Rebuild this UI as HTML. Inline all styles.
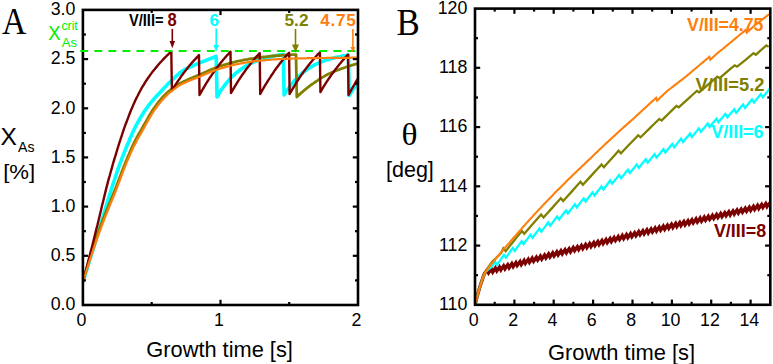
<!DOCTYPE html>
<html><head><meta charset="utf-8"><title>fig</title>
<style>
html,body{margin:0;padding:0;background:#fff;}
body{width:773px;height:364px;overflow:hidden;}
svg{display:block;}
text{font-family:"Liberation Sans",sans-serif;fill:#000;}
.ser{font-family:"Liberation Serif",serif;}
.b{font-weight:bold;}
</style></head><body>
<svg width="773" height="364" viewBox="0 0 773 364">
<rect width="773" height="364" fill="#fff"/>

<defs><clipPath id="ca"><rect x="82.9" y="9.9" width="275.1" height="295.1"/></clipPath>
<clipPath id="cb"><rect x="475.0" y="8.6" width="296.3" height="296.2"/></clipPath></defs>
<g clip-path="url(#ca)" fill="none" stroke-linejoin="round">
<path d="M82.9,281.9 L84.6,276.5 L86.3,271.2 L88.0,265.8 L89.6,260.4 L91.3,255.0 L93.0,249.6 L94.7,244.2 L96.4,238.7 L98.1,233.3 L99.8,227.8 L101.5,222.2 L103.1,216.5 L104.8,210.8 L106.5,205.1 L108.2,199.5 L109.9,193.9 L111.6,188.5 L113.3,183.3 L115.0,178.2 L116.6,173.3 L118.3,168.4 L120.0,163.7 L121.7,159.1 L123.4,154.7 L125.1,150.3 L126.8,146.2 L128.5,142.2 L130.1,138.3 L131.8,134.5 L133.5,130.8 L135.2,127.3 L136.9,124.0 L138.6,120.9 L140.3,118.0 L142.0,115.3 L143.6,112.6 L145.3,110.1 L147.0,107.7 L148.7,105.4 L150.4,103.2 L152.1,101.2 L153.8,99.2 L155.4,97.3 L157.1,95.5 L158.8,93.7 L160.5,91.9 L162.2,90.1 L163.9,88.3 L165.6,86.6 L167.3,84.8 L168.9,83.1 L170.6,81.5 L172.3,79.9 L174.0,78.2 L175.7,76.6 L177.4,75.0 L179.1,73.5 L180.8,72.2 L182.4,71.0 L184.1,70.0 L185.8,69.0 L187.5,68.2 L189.2,67.3 L190.9,66.6 L192.6,65.8 L194.3,65.1 L195.9,64.4 L197.6,63.6 L199.3,62.9 L201.0,62.3 L202.7,61.6 L204.4,61.0 L206.1,60.3 L207.8,59.6 L209.4,59.0 L211.1,58.3 L212.8,57.7 L214.5,57.0 L216.2,56.3 L217.0,97.0 L219.3,93.1 L221.6,89.5 L223.9,86.3 L226.2,83.3 L228.4,80.6 L230.7,78.1 L233.0,75.8 L235.3,73.7 L237.6,71.8 L239.9,70.0 L242.2,68.4 L244.4,66.9 L246.7,65.5 L249.0,64.3 L251.3,63.2 L253.6,62.1 L255.9,61.2 L258.2,60.3 L260.4,59.5 L262.7,58.7 L265.0,58.1 L267.3,57.5 L269.6,56.9 L271.9,56.4 L274.2,55.9 L276.5,55.5 L278.7,55.1 L281.0,54.7 L283.3,54.4 L284.1,95.0 L286.4,91.4 L288.6,88.2 L290.8,85.2 L293.0,82.5 L295.2,79.9 L297.4,77.6 L299.6,75.5 L301.9,73.5 L304.1,71.7 L306.3,70.1 L308.5,68.6 L310.7,67.2 L312.9,65.9 L315.1,64.7 L317.4,63.6 L319.6,62.6 L321.8,61.7 L324.0,60.9 L326.2,60.1 L328.4,59.4 L330.7,58.8 L332.9,58.2 L335.1,57.6 L337.3,57.1 L339.5,56.7 L341.7,56.2 L343.9,55.8 L346.2,55.5 L348.4,55.1 L349.2,95.5 L351.4,91.9 L353.6,88.6 L355.8,85.6 L358.0,82.8 L360.2,80.3" stroke="#00ffff" stroke-width="3.6"/>
<path d="M82.9,281.9 L84.7,275.4 L86.5,268.9 L88.3,262.6 L90.1,256.4 L91.9,251.0 L93.6,245.7 L95.4,240.5 L97.2,235.4 L99.0,230.4 L100.8,225.5 L102.6,220.7 L104.4,216.1 L106.2,211.6 L108.0,207.2 L109.8,202.8 L111.5,198.4 L113.3,194.0 L115.1,189.5 L116.9,184.9 L118.7,180.2 L120.5,175.4 L122.3,170.6 L124.1,166.0 L125.9,161.5 L127.7,157.2 L129.5,153.0 L131.2,149.0 L133.0,145.1 L134.8,141.4 L136.6,138.0 L138.4,134.8 L140.2,131.7 L142.0,128.5 L143.8,125.3 L145.6,122.1 L147.4,119.0 L149.1,115.9 L150.9,113.0 L152.7,110.1 L154.5,107.5 L156.3,105.0 L158.1,102.6 L159.9,100.4 L161.7,98.3 L163.5,96.3 L165.3,94.5 L167.1,92.8 L168.8,91.3 L170.6,89.8 L172.4,88.5 L174.2,87.2 L176.0,86.0 L177.8,84.7 L179.6,83.6 L181.4,82.7 L183.2,81.8 L185.0,81.0 L186.7,80.2 L188.5,79.4 L190.3,78.6 L192.1,77.9 L193.9,77.1 L195.7,76.4 L197.5,75.6 L199.3,74.9 L201.1,74.1 L202.9,73.3 L204.7,72.4 L206.4,71.7 L208.2,70.9 L210.0,70.1 L211.8,69.3 L213.6,68.6 L215.4,67.8 L217.2,67.2 L219.0,66.5 L220.8,65.9 L222.6,65.4 L224.3,64.8 L226.1,64.3 L227.9,63.8 L229.7,63.3 L231.5,62.8 L233.3,62.3 L235.1,61.9 L236.9,61.4 L238.7,61.0 L240.5,60.6 L242.3,60.3 L244.0,59.9 L245.8,59.6 L247.6,59.3 L249.4,58.9 L251.2,58.6 L253.0,58.4 L254.8,58.1 L256.6,57.9 L258.4,57.6 L260.2,57.4 L261.9,57.2 L263.7,57.0 L265.5,56.8 L267.3,56.6 L269.1,56.4 L270.9,56.2 L272.7,56.0 L274.5,55.9 L276.3,55.7 L278.1,55.6 L279.9,55.5 L281.6,55.4 L283.4,55.2 L285.2,55.1 L287.0,55.0 L288.8,54.9 L290.6,54.8 L292.4,54.7 L294.2,54.6 L296.0,54.6 L296.8,97.0 L297.6,96.2 L298.4,95.4 L299.3,94.6 L300.1,93.9 L300.9,93.2 L301.8,92.4 L302.6,91.7 L303.4,91.0 L304.2,90.3 L305.1,89.6 L305.9,88.9 L306.7,88.3 L307.5,87.6 L308.4,87.0 L309.2,86.4 L310.0,85.7 L310.8,85.1 L311.7,84.5 L312.5,83.9 L313.3,83.4 L314.2,82.8 L315.0,82.2 L315.8,81.7 L316.6,81.1 L317.5,80.6 L318.3,80.0 L319.1,79.5 L319.9,79.0 L320.8,78.4 L321.6,77.9 L322.4,77.4 L323.3,76.9 L324.1,76.4 L324.9,75.9 L325.7,75.4 L326.6,75.0 L327.4,74.5 L328.2,74.1 L329.0,73.7 L329.9,73.3 L330.7,72.9 L331.5,72.6 L332.4,72.2 L333.2,71.9 L334.0,71.5 L334.8,71.2 L335.7,70.9 L336.5,70.5 L337.3,70.2 L338.1,69.9 L339.0,69.6 L339.8,69.3 L340.6,69.0 L341.5,68.7 L342.3,68.4 L343.1,68.1 L343.9,67.8 L344.8,67.5 L345.6,67.2 L346.4,67.0 L347.2,66.7 L348.1,66.4 L348.9,66.1 L349.7,65.9 L350.5,65.6 L351.4,65.4 L352.2,65.1 L353.0,64.9 L353.9,64.6 L354.7,64.4 L355.5,64.1 L356.3,63.9 L357.2,63.7 L358.0,63.5 L358.8,63.3 L359.6,63.1 L360.5,62.9 L361.3,62.8 L362.1,62.6" stroke="#808000" stroke-width="2.8"/>
<path d="M82.9,281.9 L84.0,277.6 L85.1,273.3 L86.3,269.0 L87.4,264.7 L88.5,260.3 L89.6,256.0 L90.7,251.6 L91.9,247.2 L93.0,242.8 L94.1,238.3 L95.2,233.9 L96.3,229.4 L97.5,224.9 L98.6,220.3 L99.7,215.6 L100.8,210.9 L101.9,206.2 L103.1,201.5 L104.2,196.9 L105.3,192.4 L106.4,187.9 L107.5,183.6 L108.6,179.4 L109.8,175.3 L110.9,171.2 L112.0,167.3 L113.1,163.4 L114.2,159.6 L115.4,155.8 L116.5,152.2 L117.6,148.5 L118.7,144.9 L119.8,141.4 L121.0,137.9 L122.1,134.5 L123.2,131.2 L124.3,127.9 L125.4,124.8 L126.6,121.8 L127.7,118.8 L128.8,115.9 L129.9,113.0 L131.0,110.2 L132.2,107.5 L133.3,104.9 L134.4,102.4 L135.5,100.0 L136.6,97.7 L137.8,95.5 L138.9,93.3 L140.0,91.2 L141.1,89.2 L142.2,87.2 L143.4,85.3 L144.5,83.5 L145.6,81.7 L146.7,80.0 L147.8,78.3 L149.0,76.7 L150.1,75.1 L151.2,73.6 L152.3,72.1 L153.4,70.7 L154.6,69.3 L155.7,67.9 L156.8,66.6 L157.9,65.3 L159.0,64.0 L160.1,62.7 L161.3,61.5 L162.4,60.3 L163.5,59.1 L164.6,57.9 L165.7,56.8 L166.9,55.7 L168.0,54.6 L169.1,53.5 L170.2,52.4 L171.3,51.4 L171.9,90.6 L172.8,89.0 L173.8,87.5 L174.7,86.0 L175.6,84.6 L176.6,83.1 L177.5,81.7 L178.4,80.4 L179.4,79.0 L180.3,77.7 L181.2,76.3 L182.2,75.0 L183.1,73.8 L184.0,72.5 L185.0,71.3 L185.9,70.1 L186.8,68.9 L187.8,67.7 L188.7,66.6 L189.6,65.4 L190.6,64.3 L191.5,63.2 L192.5,62.2 L193.4,61.1 L194.3,60.1 L195.3,59.1 L196.2,58.1 L197.1,57.1 L198.1,56.1 L199.0,55.1 L199.5,95.0 L200.6,93.1 L201.7,91.2 L202.7,89.3 L203.8,87.5 L204.9,85.7 L205.9,83.9 L207.0,82.2 L208.1,80.5 L209.1,78.9 L210.2,77.2 L211.3,75.7 L212.3,74.1 L213.4,72.6 L214.5,71.1 L215.6,69.6 L216.6,68.1 L217.7,66.7 L218.8,65.3 L219.8,64.0 L220.9,62.6 L222.0,61.3 L223.0,60.0 L224.1,58.8 L225.2,57.5 L226.2,56.3 L227.3,55.1 L228.4,54.0 L229.4,52.8 L230.5,51.7 L231.0,93.0 L232.0,91.3 L233.0,89.6 L234.0,87.9 L235.0,86.2 L236.0,84.6 L237.0,83.0 L237.9,81.4 L238.9,79.9 L239.9,78.4 L240.9,76.9 L241.9,75.4 L242.9,74.0 L243.9,72.6 L244.9,71.2 L245.8,69.8 L246.8,68.5 L247.8,67.2 L248.8,65.9 L249.8,64.7 L250.8,63.4 L251.8,62.2 L252.7,61.0 L253.7,59.8 L254.7,58.7 L255.7,57.5 L256.7,56.4 L257.7,55.3 L258.7,54.2 L259.7,53.2 L260.2,94.0 L261.2,92.2 L262.2,90.4 L263.2,88.7 L264.2,86.9 L265.2,85.2 L266.2,83.6 L267.2,82.0 L268.2,80.4 L269.2,78.8 L270.2,77.3 L271.2,75.7 L272.2,74.3 L273.2,72.8 L274.1,71.4 L275.1,69.9 L276.1,68.6 L277.1,67.2 L278.1,65.9 L279.1,64.6 L280.1,63.3 L281.1,62.0 L282.1,60.8 L283.1,59.6 L284.1,58.4 L285.1,57.2 L286.1,56.0 L287.1,54.9 L288.1,53.8 L289.1,52.7 L289.6,94.0 L290.7,92.1 L291.7,90.3 L292.8,88.5 L293.8,86.8 L294.9,85.1 L295.9,83.4 L296.9,81.7 L298.0,80.1 L299.0,78.5 L300.1,76.9 L301.1,75.4 L302.2,73.9 L303.2,72.4 L304.2,71.0 L305.3,69.5 L306.3,68.1 L307.4,66.8 L308.4,65.4 L309.5,64.1 L310.5,62.8 L311.6,61.5 L312.6,60.3 L313.6,59.1 L314.7,57.9 L315.7,56.7 L316.8,55.5 L317.8,54.4 L318.9,53.3 L319.9,52.2 L320.4,92.0 L321.4,90.4 L322.3,88.8 L323.3,87.2 L324.2,85.7 L325.2,84.2 L326.1,82.7 L327.1,81.2 L328.0,79.8 L329.0,78.4 L329.9,77.0 L330.9,75.6 L331.8,74.3 L332.8,73.0 L333.7,71.7 L334.7,70.4 L335.6,69.1 L336.6,67.9 L337.5,66.7 L338.5,65.5 L339.4,64.3 L340.4,63.2 L341.3,62.0 L342.3,60.9 L343.2,59.8 L344.2,58.8 L345.1,57.7 L346.1,56.7 L347.0,55.7 L348.0,54.7 L348.5,95.0 L349.5,93.2 L350.5,91.4 L351.4,89.6 L352.4,87.9 L353.4,86.2 L354.4,84.5 L355.3,82.8 L356.3,81.2 L357.3,79.6 L358.3,78.1 L359.3,76.6 L360.2,75.1" stroke="#7b0000" stroke-width="2.4"/>
<path d="M82.9,281.9 L84.7,276.2 L86.4,270.7 L88.2,265.2 L89.9,259.8 L91.7,254.5 L93.4,249.3 L95.2,244.1 L96.9,239.1 L98.7,234.2 L100.5,229.4 L102.2,224.7 L104.0,220.1 L105.7,215.7 L107.5,211.3 L109.2,207.0 L111.0,202.7 L112.8,198.4 L114.5,194.0 L116.3,189.5 L118.0,184.9 L119.8,180.3 L121.5,175.6 L123.3,170.9 L125.0,166.5 L126.8,162.1 L128.6,158.0 L130.3,154.0 L132.1,150.1 L133.8,146.4 L135.6,142.9 L137.3,139.6 L139.1,136.5 L140.9,133.5 L142.6,130.4 L144.4,127.2 L146.1,124.0 L147.9,120.9 L149.6,117.9 L151.4,115.0 L153.1,112.2 L154.9,109.5 L156.7,107.0 L158.4,104.7 L160.2,102.5 L161.9,100.4 L163.7,98.4 L165.4,96.6 L167.2,94.9 L169.0,93.3 L170.7,91.8 L172.5,90.5 L174.2,89.2 L176.0,87.9 L177.7,86.5 L179.5,85.4 L181.2,84.5 L183.0,83.6 L184.8,82.7 L186.5,81.9 L188.3,81.2 L190.0,80.4 L191.8,79.7 L193.5,79.0 L195.3,78.4 L197.0,77.7 L198.8,76.9 L200.6,76.2 L202.3,75.5 L204.1,74.7 L205.8,74.0 L207.6,73.3 L209.3,72.5 L211.1,71.8 L212.9,71.1 L214.6,70.4 L216.4,69.8 L218.1,69.2 L219.9,68.6 L221.6,68.1 L223.4,67.6 L225.1,67.1 L226.9,66.6 L228.7,66.2 L230.4,65.7 L232.2,65.3 L233.9,64.9 L235.7,64.5 L237.4,64.1 L239.2,63.8 L241.0,63.4 L242.7,63.1 L244.5,62.8 L246.2,62.5 L248.0,62.2 L249.7,61.9 L251.5,61.7 L253.2,61.4 L255.0,61.2 L256.8,61.0 L258.5,60.8 L260.3,60.6 L262.0,60.5 L263.8,60.3 L265.5,60.1 L267.3,60.0 L269.1,59.8 L270.8,59.7 L272.6,59.5 L274.3,59.4 L276.1,59.3 L277.8,59.2 L279.6,59.1 L281.3,59.0 L283.1,58.9 L284.9,58.9 L286.6,58.8 L288.4,58.7 L290.1,58.7 L291.9,58.6 L293.6,58.5 L295.4,58.5 L297.1,58.5 L298.9,58.4 L300.7,58.4 L302.4,58.3 L304.2,58.3 L305.9,58.3 L307.7,58.2 L309.4,58.2 L311.2,58.2 L313.0,58.1 L314.7,58.1 L316.5,58.1 L318.2,58.0 L320.0,58.0 L321.7,58.0 L323.5,58.0 L325.2,58.0 L327.0,57.9 L328.8,57.9 L330.5,57.9 L332.3,57.9 L334.0,57.9 L335.8,57.9 L337.5,57.8 L339.3,57.8 L341.1,57.8 L342.8,57.8 L344.6,57.8 L346.3,57.8 L348.1,57.8 L349.8,57.8 L351.6,57.7 L353.3,57.7 L355.1,57.7 L356.9,57.7 L358.6,57.7 L360.4,57.7 L362.1,57.7" stroke="#ff7f0e" stroke-width="2.2"/>
</g>
<rect x="82.9" y="9.9" width="275.1" height="295.1" fill="none" stroke="#000" stroke-width="2.6"/>
<line x1="151.7" y1="305.0" x2="151.7" y2="302.0" stroke="#000" stroke-width="2.2"/>
<line x1="151.7" y1="9.9" x2="151.7" y2="12.9" stroke="#000" stroke-width="2.2"/>
<line x1="220.5" y1="305.0" x2="220.5" y2="299.8" stroke="#000" stroke-width="2.2"/>
<line x1="220.5" y1="9.9" x2="220.5" y2="15.1" stroke="#000" stroke-width="2.2"/>
<line x1="289.2" y1="305.0" x2="289.2" y2="302.0" stroke="#000" stroke-width="2.2"/>
<line x1="289.2" y1="9.9" x2="289.2" y2="12.9" stroke="#000" stroke-width="2.2"/>
<line x1="82.9" y1="280.4" x2="85.9" y2="280.4" stroke="#000" stroke-width="2.2"/>
<line x1="358.0" y1="280.4" x2="355.0" y2="280.4" stroke="#000" stroke-width="2.2"/>
<line x1="82.9" y1="255.8" x2="88.1" y2="255.8" stroke="#000" stroke-width="2.2"/>
<line x1="358.0" y1="255.8" x2="352.8" y2="255.8" stroke="#000" stroke-width="2.2"/>
<line x1="82.9" y1="231.2" x2="85.9" y2="231.2" stroke="#000" stroke-width="2.2"/>
<line x1="358.0" y1="231.2" x2="355.0" y2="231.2" stroke="#000" stroke-width="2.2"/>
<line x1="82.9" y1="206.6" x2="88.1" y2="206.6" stroke="#000" stroke-width="2.2"/>
<line x1="358.0" y1="206.6" x2="352.8" y2="206.6" stroke="#000" stroke-width="2.2"/>
<line x1="82.9" y1="182.0" x2="85.9" y2="182.0" stroke="#000" stroke-width="2.2"/>
<line x1="358.0" y1="182.0" x2="355.0" y2="182.0" stroke="#000" stroke-width="2.2"/>
<line x1="82.9" y1="157.4" x2="88.1" y2="157.4" stroke="#000" stroke-width="2.2"/>
<line x1="358.0" y1="157.4" x2="352.8" y2="157.4" stroke="#000" stroke-width="2.2"/>
<line x1="82.9" y1="132.9" x2="85.9" y2="132.9" stroke="#000" stroke-width="2.2"/>
<line x1="358.0" y1="132.9" x2="355.0" y2="132.9" stroke="#000" stroke-width="2.2"/>
<line x1="82.9" y1="108.3" x2="88.1" y2="108.3" stroke="#000" stroke-width="2.2"/>
<line x1="358.0" y1="108.3" x2="352.8" y2="108.3" stroke="#000" stroke-width="2.2"/>
<line x1="82.9" y1="83.7" x2="85.9" y2="83.7" stroke="#000" stroke-width="2.2"/>
<line x1="358.0" y1="83.7" x2="355.0" y2="83.7" stroke="#000" stroke-width="2.2"/>
<line x1="82.9" y1="59.1" x2="88.1" y2="59.1" stroke="#000" stroke-width="2.2"/>
<line x1="358.0" y1="59.1" x2="352.8" y2="59.1" stroke="#000" stroke-width="2.2"/>
<line x1="82.9" y1="34.5" x2="85.9" y2="34.5" stroke="#000" stroke-width="2.2"/>
<line x1="358.0" y1="34.5" x2="355.0" y2="34.5" stroke="#000" stroke-width="2.2"/>
<line x1="80.3" y1="51.0" x2="359.0" y2="51.0" stroke="#00ee00" stroke-width="1.8" stroke-dasharray="7.8,6.26"/>
<text x="75.4" y="310.3" font-size="17.8" text-anchor="end">0.0</text>
<text x="75.4" y="261.1" font-size="17.8" text-anchor="end">0.5</text>
<text x="75.4" y="211.9" font-size="17.8" text-anchor="end">1.0</text>
<text x="75.4" y="162.8" font-size="17.8" text-anchor="end">1.5</text>
<text x="75.4" y="113.6" font-size="17.8" text-anchor="end">2.0</text>
<text x="75.4" y="64.4" font-size="17.8" text-anchor="end">2.5</text>
<text x="75.4" y="15.2" font-size="17.8" text-anchor="end">3.0</text>
<text x="81.4" y="326.4" font-size="17.8" text-anchor="middle">0</text>
<text x="219.0" y="326.4" font-size="17.8" text-anchor="middle">1</text>
<text x="356.5" y="326.4" font-size="17.8" text-anchor="middle">2</text>
<text x="219.6" y="357.2" font-size="21.8" text-anchor="middle">Growth time [s]</text>
<text class="ser" x="2" y="34.4" font-size="37.5" transform="translate(2 0) scale(0.9 1) translate(-2 0)">A</text>
<text x="0.5" y="144.7" font-size="24.5">X</text><text x="18" y="151.9" font-size="14.1">As</text>
<text x="3.2" y="178.7" font-size="21" textLength="32" lengthAdjust="spacingAndGlyphs">[%]</text>
<text x="48.3" y="40" font-size="20.5" textLength="12.3" lengthAdjust="spacingAndGlyphs" style="fill:#00ee00">X</text>
<text x="61.5" y="29.6" font-size="12.2" style="fill:#00ee00">crit</text>
<text x="61.8" y="46.5" font-size="13" style="fill:#00ee00">As</text>
<text class="b" x="129" y="26.0" font-size="16.2" textLength="34.5" lengthAdjust="spacingAndGlyphs">V/III=</text>
<text class="b" x="172.2" y="26.4" font-size="18" textLength="9.2" lengthAdjust="spacingAndGlyphs" text-anchor="middle" style="fill:#7b0000">8</text>
<line x1="172.3" y1="28.9" x2="172.3" y2="41.9" stroke="#7b0000" stroke-width="1.6"/>
<path d="M169.6,40.9 L175.1,40.9 L172.3,48.3 Z" fill="#7b0000"/>
<text class="b" x="214.2" y="25.7" font-size="17.2" text-anchor="middle" style="fill:#00ffff">6</text>
<line x1="216.2" y1="28.5" x2="216.2" y2="46.0" stroke="#00ffff" stroke-width="1.6"/>
<path d="M213.3,45.0 L219.1,45.0 L216.2,51.8 Z" fill="#00ffff"/>
<text class="b" x="296.5" y="25.7" font-size="17.2" text-anchor="middle" style="fill:#808000">5.2</text>
<line x1="295.5" y1="28.9" x2="295.5" y2="45.5" stroke="#808000" stroke-width="1.6"/>
<path d="M292.0,44.5 L299.0,44.5 L295.5,52.8 Z" fill="#808000"/>
<text class="b" x="320.2" y="25.7" font-size="17.2" textLength="35.5" lengthAdjust="spacing" style="fill:#ff7f0e">4.75</text>
<line x1="352.9" y1="28.9" x2="352.9" y2="48.0" stroke="#ff7f0e" stroke-width="1.6"/>
<path d="M350.4,47.0 L355.4,47.0 L352.9,52.0 Z" fill="#ff7f0e"/>
<g clip-path="url(#cb)" fill="none" stroke-linejoin="miter">
<path d="M475.0,304.8 L475.8,301.6 L476.6,298.5 L477.4,295.6 L478.1,292.8 L478.9,290.2 L479.7,287.6 L480.5,285.1 L481.3,282.5 L482.1,280.2 L482.9,277.9 L483.7,275.6 L484.4,273.7 L487.2,269.9 L488.6,272.8 L489.9,270.9 L491.3,269.0 L492.7,272.0 L494.0,270.0 L495.4,268.0 L496.8,270.9 L498.1,269.0 L499.5,267.0 L500.9,269.9 L502.2,267.9 L503.6,265.9 L505.0,268.8 L506.3,266.8 L507.7,264.8 L509.1,267.7 L510.4,265.7 L511.8,263.7 L513.2,266.6 L514.5,264.6 L515.9,262.6 L517.2,265.5 L518.6,263.6 L520.0,261.6 L521.3,264.5 L522.7,262.5 L524.1,260.5 L525.4,263.4 L526.8,261.4 L528.2,259.4 L529.5,262.3 L530.9,260.3 L532.2,258.3 L533.6,261.2 L535.0,259.2 L536.3,257.3 L537.7,260.1 L539.1,258.2 L540.4,256.2 L541.8,259.1 L543.2,257.1 L544.5,255.1 L545.9,258.0 L547.3,256.0 L548.6,254.0 L550.0,256.9 L551.4,255.0 L552.7,253.0 L554.1,255.9 L555.5,253.9 L556.8,251.9 L558.2,254.8 L559.6,252.8 L560.9,250.9 L562.3,253.8 L563.6,251.8 L565.0,249.8 L566.4,252.7 L567.7,250.7 L569.1,248.8 L570.5,251.7 L571.8,249.7 L573.2,247.7 L574.6,250.6 L575.9,248.6 L577.3,246.7 L578.7,249.6 L580.0,247.6 L581.4,245.6 L582.8,248.6 L584.1,246.6 L585.5,244.6 L586.9,247.5 L588.2,245.6 L589.6,243.6 L591.0,246.5 L592.3,244.5 L593.7,242.6 L595.0,245.5 L596.4,243.5 L597.8,241.6 L599.1,244.5 L600.5,242.5 L601.9,240.6 L603.2,243.5 L604.6,241.5 L606.0,239.6 L607.3,242.5 L608.7,240.5 L610.1,238.6 L611.4,241.5 L612.8,239.5 L614.1,237.6 L615.5,240.5 L616.9,238.6 L618.2,236.6 L619.6,239.5 L621.0,237.6 L622.3,235.6 L623.7,238.6 L625.1,236.6 L626.4,234.7 L627.8,237.6 L629.2,235.7 L630.5,233.7 L631.9,236.6 L633.3,234.7 L634.6,232.8 L636.0,235.7 L637.4,233.8 L638.7,231.8 L640.1,234.7 L641.5,232.8 L642.8,230.9 L644.2,233.8 L645.5,231.9 L646.9,229.9 L648.3,232.9 L649.6,230.9 L651.0,229.0 L652.4,231.9 L653.7,230.0 L655.1,228.1 L656.5,231.0 L657.8,229.1 L659.2,227.1 L660.6,230.1 L661.9,228.2 L663.3,226.2 L664.7,229.2 L666.0,227.2 L667.4,225.3 L668.8,228.3 L670.1,226.3 L671.5,224.4 L672.9,227.4 L674.2,225.4 L675.6,223.5 L676.9,226.5 L678.3,224.5 L679.7,222.6 L681.0,225.6 L682.4,223.6 L683.8,221.7 L685.1,224.7 L686.5,222.7 L687.9,220.8 L689.2,223.8 L690.6,221.8 L691.9,219.9 L693.3,222.9 L694.7,220.9 L696.0,219.0 L697.4,222.0 L698.8,220.1 L700.1,218.1 L701.5,221.1 L702.9,219.2 L704.2,217.2 L705.6,220.2 L707.0,218.3 L708.3,216.4 L709.7,219.3 L711.1,217.4 L712.4,215.5 L713.8,218.4 L715.2,216.5 L716.5,214.6 L717.9,217.5 L719.3,215.6 L720.6,213.7 L722.0,216.6 L723.3,214.7 L724.7,212.8 L726.1,215.7 L727.4,213.8 L728.8,211.9 L730.2,214.9 L731.5,212.9 L732.9,211.0 L734.3,214.0 L735.6,212.0 L737.0,210.1 L738.4,213.1 L739.7,211.1 L741.1,209.2 L742.5,212.1 L743.8,210.2 L745.2,208.3 L746.6,211.2 L747.9,209.3 L749.3,207.4 L750.7,210.3 L752.0,208.4 L753.4,206.4 L754.7,209.4 L756.1,207.5 L757.5,205.5 L758.8,208.5 L760.2,206.5 L761.6,204.6 L762.9,207.5 L764.3,205.6 L765.7,203.6 L767.0,206.6 L768.4,204.6 L769.7,202.7" stroke="#7b0000" stroke-width="3.4"/>
<path d="M475.0,304.8 L475.8,301.6 L476.6,298.5 L477.4,295.6 L478.1,292.8 L478.9,290.2 L479.7,287.6 L480.5,285.0 L481.3,282.5 L482.1,280.1 L482.9,278.0 L483.7,275.9 L484.4,274.1 L485.2,272.8 L486.0,271.8 L486.8,270.9 L487.6,270.1 L488.4,269.4 L489.2,268.8 L490.0,268.2 L490.7,267.5 L491.5,266.9 L492.3,266.3 L495.1,261.9 L497.0,264.8 L498.8,262.3 L500.5,259.8 L502.2,257.3 L503.9,254.9 L505.9,257.8 L507.6,255.3 L509.4,252.9 L511.1,250.4 L512.8,248.0 L514.8,250.9 L516.5,248.4 L518.2,246.0 L519.9,243.6 L521.7,241.2 L523.6,244.1 L525.3,241.7 L527.1,239.4 L528.8,237.1 L530.5,234.8 L532.5,237.8 L534.2,235.5 L535.9,233.2 L537.7,230.9 L539.4,228.6 L541.3,231.7 L543.1,229.4 L544.8,227.1 L546.5,224.8 L548.2,222.6 L550.2,225.7 L551.9,223.4 L553.6,221.1 L555.4,218.8 L557.1,216.5 L559.1,219.6 L560.8,217.3 L562.5,215.0 L564.2,212.7 L566.0,210.4 L567.9,213.4 L569.6,211.2 L571.4,208.9 L573.1,206.6 L574.8,204.3 L576.8,207.4 L578.5,205.2 L580.2,202.9 L581.9,200.6 L583.7,198.4 L585.6,201.5 L587.4,199.2 L589.1,197.0 L590.8,194.7 L592.5,192.4 L594.5,195.5 L596.2,193.2 L597.9,190.9 L599.7,188.7 L601.4,186.4 L603.4,189.5 L605.1,187.2 L606.8,185.0 L608.5,182.7 L610.2,180.4 L612.2,183.6 L613.9,181.5 L615.7,179.3 L617.4,177.2 L619.1,175.0 L621.1,178.3 L622.8,176.1 L624.5,174.0 L626.2,171.8 L628.0,169.7 L629.9,173.0 L631.7,170.8 L633.4,168.7 L635.1,166.6 L636.8,164.5 L638.8,167.8 L640.5,165.7 L642.2,163.5 L644.0,161.4 L645.7,159.3 L647.7,162.6 L649.4,160.5 L651.1,158.5 L652.8,156.4 L654.5,154.3 L656.5,157.6 L658.2,155.5 L660.0,153.4 L661.7,151.3 L663.4,149.2 L665.4,152.4 L667.1,150.3 L668.8,148.2 L670.5,146.0 L672.3,143.9 L674.2,147.2 L676.0,145.1 L677.7,142.9 L679.4,140.8 L681.1,138.7 L683.1,142.0 L684.8,139.9 L686.5,137.8 L688.3,135.7 L690.0,133.6 L691.9,136.9 L693.7,134.8 L695.4,132.7 L697.1,130.6 L698.8,128.5 L700.8,131.8 L702.5,129.8 L704.3,127.7 L706.0,125.6 L707.7,123.5 L709.7,126.9 L711.4,124.8 L713.1,122.8 L714.8,120.7 L716.6,118.7 L718.5,122.1 L720.2,120.0 L722.0,118.0 L723.7,116.0 L725.4,113.9 L727.4,117.3 L729.1,115.3 L730.8,113.3 L732.6,111.3 L734.3,109.3 L736.2,112.7 L738.0,110.7 L739.7,108.6 L741.4,106.6 L743.1,104.6 L745.1,108.0 L746.8,105.9 L748.5,103.7 L750.3,101.5 L752.0,99.4 L754.0,102.6 L755.7,100.5 L757.4,98.3 L759.1,96.2 L760.9,94.0 L762.8,97.3 L764.5,95.2 L766.3,93.0 L768.0,90.9 L769.7,88.7" stroke="#00ffff" stroke-width="2.3"/>
<path d="M475.0,304.8 L475.8,301.6 L476.6,298.5 L477.4,295.6 L478.1,292.8 L478.9,290.2 L479.7,287.6 L480.5,285.0 L481.3,282.5 L482.1,280.1 L482.9,278.0 L483.7,276.0 L484.4,274.2 L485.2,272.6 L486.0,271.2 L486.8,269.8 L487.6,268.5 L488.4,267.2 L489.2,266.0 L490.0,264.9 L490.7,263.8 L491.5,262.7 L492.3,261.8 L493.1,260.9 L493.9,260.1 L494.7,259.3 L495.5,258.6 L496.3,257.8 L497.0,257.0 L497.8,256.3 L498.6,255.5 L499.4,254.7 L500.2,253.9 L501.0,253.2 L503.3,248.4 L505.7,251.1 L509.7,246.0 L513.8,241.0 L517.8,235.9 L521.9,231.0 L524.2,233.7 L528.4,228.9 L532.7,224.1 L536.9,219.3 L541.1,214.5 L543.5,217.5 L547.8,212.7 L552.2,207.9 L556.5,203.1 L560.8,198.2 L563.2,201.1 L567.5,196.2 L571.9,191.4 L576.2,186.6 L580.5,181.8 L582.9,184.7 L587.6,179.6 L592.2,174.6 L596.9,169.5 L601.6,164.5 L603.9,167.2 L607.6,163.1 L611.2,159.0 L614.9,154.9 L618.5,150.8 L620.9,153.3 L625.2,148.8 L629.5,144.3 L633.9,139.8 L638.2,135.3 L640.6,137.3 L645.2,132.7 L649.9,128.1 L654.6,123.5 L659.3,118.9 L661.6,120.6 L665.3,116.9 L669.0,113.3 L672.7,109.6 L676.4,106.0 L678.8,107.3 L683.3,103.2 L687.8,99.1 L692.3,95.0 L696.9,91.0 L699.2,92.3 L703.8,88.3 L708.3,84.4 L712.8,80.6 L717.3,76.7 L719.7,78.1 L723.4,74.8 L727.2,71.6 L730.9,68.4 L734.7,65.3 L737.0,66.7 L741.2,63.4 L745.3,60.1 L749.4,56.6 L753.6,53.2 L755.9,54.7 L758.5,52.3 L761.1,50.0 L763.8,47.7 L766.4,45.4 L768.7,46.9" stroke="#808000" stroke-width="2.3"/>
<path d="M475.0,304.8 L476.0,300.8 L477.0,297.1 L478.0,293.5 L478.9,290.2 L479.9,287.0 L480.9,283.8 L481.9,280.7 L482.9,278.0 L483.9,275.5 L484.8,273.4 L485.8,271.7 L486.8,270.1 L487.8,268.7 L488.8,267.3 L489.8,266.1 L490.7,264.9 L491.7,263.6 L492.7,262.4 L493.7,261.2 L494.7,260.0 L495.7,258.9 L496.7,257.7 L497.6,256.5 L498.6,255.3 L499.6,254.2 L500.6,253.0 L501.6,251.8 L502.6,250.7 L503.5,249.5 L504.5,248.4 L505.5,247.2 L506.5,246.0 L507.5,244.9 L508.5,243.7 L509.5,242.6 L510.4,241.5 L511.4,240.3 L512.4,239.2 L513.4,238.0 L514.4,236.9 L515.4,235.8 L516.3,234.7 L517.3,233.5 L518.3,232.4 L519.3,231.3 L520.3,230.2 L521.3,229.1 L522.2,227.9 L523.2,226.8 L524.2,225.7 L525.2,224.6 L526.2,223.5 L527.2,222.4 L528.2,221.3 L529.1,220.2 L530.1,219.1 L531.1,218.0 L532.1,217.0 L533.1,215.9 L534.1,214.8 L535.0,213.7 L536.0,212.7 L537.0,211.6 L538.0,210.6 L539.0,209.5 L540.0,208.5 L541.0,207.4 L541.9,206.4 L542.9,205.4 L543.9,204.3 L544.9,203.3 L545.9,202.3 L546.9,201.3 L547.8,200.2 L548.8,199.2 L549.8,198.2 L550.8,197.2 L551.8,196.2 L552.8,195.2 L553.7,194.1 L554.7,193.1 L555.7,192.1 L556.7,191.1 L557.7,190.1 L558.7,189.1 L559.7,188.2 L560.6,187.2 L561.6,186.2 L562.6,185.2 L563.6,184.2 L564.6,183.2 L565.6,182.3 L566.5,181.3 L567.5,180.3 L568.5,179.3 L569.5,178.4 L570.5,177.4 L571.5,176.4 L572.4,175.5 L573.4,174.5 L574.4,173.6 L575.4,172.6 L576.4,171.7 L577.4,170.7 L578.4,169.8 L579.3,168.9 L580.3,167.9 L581.3,167.0 L582.3,166.0 L583.3,165.1 L584.3,164.2 L585.2,163.3 L586.2,162.3 L587.2,161.4 L588.2,160.5 L589.2,159.6 L590.2,158.6 L591.2,157.7 L592.1,156.7 L593.1,155.7 L594.1,154.8 L595.1,153.8 L596.1,152.9 L597.1,152.0 L598.0,151.0 L599.0,150.1 L600.0,149.1 L601.0,148.2 L602.0,147.3 L603.0,146.3 L603.9,145.4 L604.9,144.5 L605.9,143.6 L606.9,142.6 L607.9,141.7 L608.9,140.8 L609.9,139.9 L610.8,139.0 L611.8,138.1 L612.8,137.2 L613.8,136.3 L614.8,135.4 L615.8,134.5 L616.7,133.6 L617.7,132.7 L618.7,131.8 L619.7,130.9 L620.7,130.0 L621.7,129.1 L622.6,128.2 L623.6,127.3 L624.6,126.4 L625.6,125.6 L626.6,124.7 L627.6,123.8 L628.6,122.9 L629.5,122.1 L630.5,121.2 L631.5,120.3 L632.5,119.5 L633.5,118.6 L634.5,117.7 L635.4,116.8 L636.4,115.8 L637.4,114.9 L638.4,114.0 L639.4,113.1 L640.4,112.2 L641.4,111.3 L642.3,110.4 L643.3,109.5 L644.3,108.6 L645.3,107.7 L646.3,106.8 L647.3,105.9 L648.2,105.0 L649.2,104.1 L650.2,103.2 L651.2,102.3 L652.2,101.4 L653.2,100.5 L654.1,99.7 L655.1,98.8 L656.1,97.9 L657.1,100.6 L658.1,99.6 L659.1,98.7 L660.1,97.7 L661.0,96.8 L662.0,95.9 L663.0,94.9 L664.0,94.0 L665.0,93.1 L666.0,92.2 L666.9,91.3 L667.9,90.5 L668.9,89.7 L669.9,89.0 L670.9,88.2 L671.9,87.4 L672.9,86.7 L673.8,85.9 L674.8,85.1 L675.8,84.4 L676.8,83.6 L677.8,82.8 L678.8,82.1 L679.7,81.3 L680.7,80.6 L681.7,79.8 L682.7,79.1 L683.7,78.3 L684.7,77.5 L685.6,76.8 L686.6,76.0 L687.6,75.1 L688.6,74.3 L689.6,73.5 L690.6,72.6 L691.6,71.8 L692.5,71.0 L693.5,70.1 L694.5,69.3 L695.5,68.5 L696.5,67.6 L697.5,66.8 L698.4,66.0 L699.4,65.2 L700.4,64.3 L701.4,63.5 L702.4,62.7 L703.4,61.9 L704.3,61.0 L705.3,60.2 L706.3,59.4 L707.3,58.6 L708.3,57.8 L709.3,56.9 L710.3,59.6 L711.2,58.7 L712.2,57.9 L713.2,57.0 L714.2,56.1 L715.2,55.2 L716.2,54.3 L717.1,53.5 L718.1,52.6 L719.1,51.7 L720.1,51.0 L721.1,50.2 L722.1,49.5 L723.1,48.7 L724.0,47.9 L725.0,47.1 L726.0,46.3 L727.0,45.4 L728.0,44.6 L729.0,43.8 L729.9,43.0 L730.9,42.2 L731.9,41.4 L732.9,40.5 L733.9,39.7 L734.9,38.9 L735.8,38.1 L736.8,37.3 L737.8,36.5 L738.8,35.7 L739.8,34.8 L740.8,34.0 L741.8,33.2 L742.7,32.4 L743.7,31.6 L744.7,30.8 L745.7,29.9 L746.7,32.6 L747.7,31.7 L748.6,30.9 L749.6,30.0 L750.6,29.1 L751.6,28.2 L752.6,27.3 L753.6,26.4 L754.6,25.5 L755.5,24.7 L756.5,23.9 L757.5,23.2 L758.5,22.4 L759.5,21.7 L760.5,20.9 L761.4,20.2 L762.4,19.4 L763.4,18.7 L764.4,17.9 L765.4,17.2 L766.4,16.4 L767.3,15.7 L768.3,14.9 L769.3,14.2 L770.3,13.4" stroke="#ff7f0e" stroke-width="2.1"/>
</g>
<rect x="475.0" y="8.6" width="295.3" height="296.2" fill="none" stroke="#000" stroke-width="2.6"/>
<line x1="494.7" y1="304.8" x2="494.7" y2="301.8" stroke="#000" stroke-width="2.2"/>
<line x1="494.7" y1="8.6" x2="494.7" y2="11.6" stroke="#000" stroke-width="2.2"/>
<line x1="514.4" y1="304.8" x2="514.4" y2="299.6" stroke="#000" stroke-width="2.2"/>
<line x1="514.4" y1="8.6" x2="514.4" y2="13.8" stroke="#000" stroke-width="2.2"/>
<line x1="534.1" y1="304.8" x2="534.1" y2="301.8" stroke="#000" stroke-width="2.2"/>
<line x1="534.1" y1="8.6" x2="534.1" y2="11.6" stroke="#000" stroke-width="2.2"/>
<line x1="553.7" y1="304.8" x2="553.7" y2="299.6" stroke="#000" stroke-width="2.2"/>
<line x1="553.7" y1="8.6" x2="553.7" y2="13.8" stroke="#000" stroke-width="2.2"/>
<line x1="573.4" y1="304.8" x2="573.4" y2="301.8" stroke="#000" stroke-width="2.2"/>
<line x1="573.4" y1="8.6" x2="573.4" y2="11.6" stroke="#000" stroke-width="2.2"/>
<line x1="593.1" y1="304.8" x2="593.1" y2="299.6" stroke="#000" stroke-width="2.2"/>
<line x1="593.1" y1="8.6" x2="593.1" y2="13.8" stroke="#000" stroke-width="2.2"/>
<line x1="612.8" y1="304.8" x2="612.8" y2="301.8" stroke="#000" stroke-width="2.2"/>
<line x1="612.8" y1="8.6" x2="612.8" y2="11.6" stroke="#000" stroke-width="2.2"/>
<line x1="632.5" y1="304.8" x2="632.5" y2="299.6" stroke="#000" stroke-width="2.2"/>
<line x1="632.5" y1="8.6" x2="632.5" y2="13.8" stroke="#000" stroke-width="2.2"/>
<line x1="652.2" y1="304.8" x2="652.2" y2="301.8" stroke="#000" stroke-width="2.2"/>
<line x1="652.2" y1="8.6" x2="652.2" y2="11.6" stroke="#000" stroke-width="2.2"/>
<line x1="671.9" y1="304.8" x2="671.9" y2="299.6" stroke="#000" stroke-width="2.2"/>
<line x1="671.9" y1="8.6" x2="671.9" y2="13.8" stroke="#000" stroke-width="2.2"/>
<line x1="691.6" y1="304.8" x2="691.6" y2="301.8" stroke="#000" stroke-width="2.2"/>
<line x1="691.6" y1="8.6" x2="691.6" y2="11.6" stroke="#000" stroke-width="2.2"/>
<line x1="711.2" y1="304.8" x2="711.2" y2="299.6" stroke="#000" stroke-width="2.2"/>
<line x1="711.2" y1="8.6" x2="711.2" y2="13.8" stroke="#000" stroke-width="2.2"/>
<line x1="730.9" y1="304.8" x2="730.9" y2="301.8" stroke="#000" stroke-width="2.2"/>
<line x1="730.9" y1="8.6" x2="730.9" y2="11.6" stroke="#000" stroke-width="2.2"/>
<line x1="750.6" y1="304.8" x2="750.6" y2="299.6" stroke="#000" stroke-width="2.2"/>
<line x1="750.6" y1="8.6" x2="750.6" y2="13.8" stroke="#000" stroke-width="2.2"/>
<line x1="475.0" y1="275.2" x2="478.0" y2="275.2" stroke="#000" stroke-width="2.2"/>
<line x1="770.3" y1="275.2" x2="767.3" y2="275.2" stroke="#000" stroke-width="2.2"/>
<line x1="475.0" y1="245.6" x2="480.2" y2="245.6" stroke="#000" stroke-width="2.2"/>
<line x1="770.3" y1="245.6" x2="765.1" y2="245.6" stroke="#000" stroke-width="2.2"/>
<line x1="475.0" y1="215.9" x2="478.0" y2="215.9" stroke="#000" stroke-width="2.2"/>
<line x1="770.3" y1="215.9" x2="767.3" y2="215.9" stroke="#000" stroke-width="2.2"/>
<line x1="475.0" y1="186.3" x2="480.2" y2="186.3" stroke="#000" stroke-width="2.2"/>
<line x1="770.3" y1="186.3" x2="765.1" y2="186.3" stroke="#000" stroke-width="2.2"/>
<line x1="475.0" y1="156.7" x2="478.0" y2="156.7" stroke="#000" stroke-width="2.2"/>
<line x1="770.3" y1="156.7" x2="767.3" y2="156.7" stroke="#000" stroke-width="2.2"/>
<line x1="475.0" y1="127.1" x2="480.2" y2="127.1" stroke="#000" stroke-width="2.2"/>
<line x1="770.3" y1="127.1" x2="765.1" y2="127.1" stroke="#000" stroke-width="2.2"/>
<line x1="475.0" y1="97.5" x2="478.0" y2="97.5" stroke="#000" stroke-width="2.2"/>
<line x1="770.3" y1="97.5" x2="767.3" y2="97.5" stroke="#000" stroke-width="2.2"/>
<line x1="475.0" y1="67.8" x2="480.2" y2="67.8" stroke="#000" stroke-width="2.2"/>
<line x1="770.3" y1="67.8" x2="765.1" y2="67.8" stroke="#000" stroke-width="2.2"/>
<line x1="475.0" y1="38.2" x2="478.0" y2="38.2" stroke="#000" stroke-width="2.2"/>
<line x1="770.3" y1="38.2" x2="767.3" y2="38.2" stroke="#000" stroke-width="2.2"/>
<text x="467.4" y="310.0" font-size="17.8" text-anchor="end">110</text>
<text x="467.4" y="250.8" font-size="17.8" text-anchor="end">112</text>
<text x="467.4" y="191.5" font-size="17.8" text-anchor="end">114</text>
<text x="467.4" y="132.3" font-size="17.8" text-anchor="end">116</text>
<text x="467.4" y="73.0" font-size="17.8" text-anchor="end">118</text>
<text x="467.4" y="13.8" font-size="17.8" text-anchor="end">120</text>
<text x="473.7" y="326.0" font-size="17.8" text-anchor="middle">0</text>
<text x="513.1" y="326.0" font-size="17.8" text-anchor="middle">2</text>
<text x="552.4" y="326.0" font-size="17.8" text-anchor="middle">4</text>
<text x="591.8" y="326.0" font-size="17.8" text-anchor="middle">6</text>
<text x="631.2" y="326.0" font-size="17.8" text-anchor="middle">8</text>
<text x="670.6" y="326.0" font-size="17.8" text-anchor="middle">10</text>
<text x="709.9" y="326.0" font-size="17.8" text-anchor="middle">12</text>
<text x="749.3" y="326.0" font-size="17.8" text-anchor="middle">14</text>
<text x="621.5" y="359.8" font-size="21.9" text-anchor="middle">Growth time [s]</text>
<text class="ser" x="396.5" y="35.2" font-size="37.5" transform="translate(396.5 0) scale(0.93 1) translate(-396.5 0)">B</text>
<text class="ser" x="401.5" y="145.5" font-size="31" transform="translate(401.5 0) scale(1.08 1) translate(-401.5 0)">θ</text>
<text x="386" y="176.8" font-size="21.5">[deg]</text>
<text class="b" x="763.4" y="31.3" font-size="18.3" textLength="76.3" lengthAdjust="spacingAndGlyphs" text-anchor="end" style="fill:#ff7f0e">V/III=4.75</text>
<text class="b" x="764.6" y="91.4" font-size="18.3" textLength="69" lengthAdjust="spacingAndGlyphs" text-anchor="end" style="fill:#808000">V/III=5.2</text>
<text class="b" x="763.6" y="137.7" font-size="18.3" textLength="52.4" lengthAdjust="spacingAndGlyphs" text-anchor="end" style="fill:#00ffff">V/III=6</text>
<text class="b" x="766.1" y="236.7" font-size="18" textLength="52.2" lengthAdjust="spacingAndGlyphs" text-anchor="end" style="fill:#7b0000">V/III=8</text>
</svg></body></html>
